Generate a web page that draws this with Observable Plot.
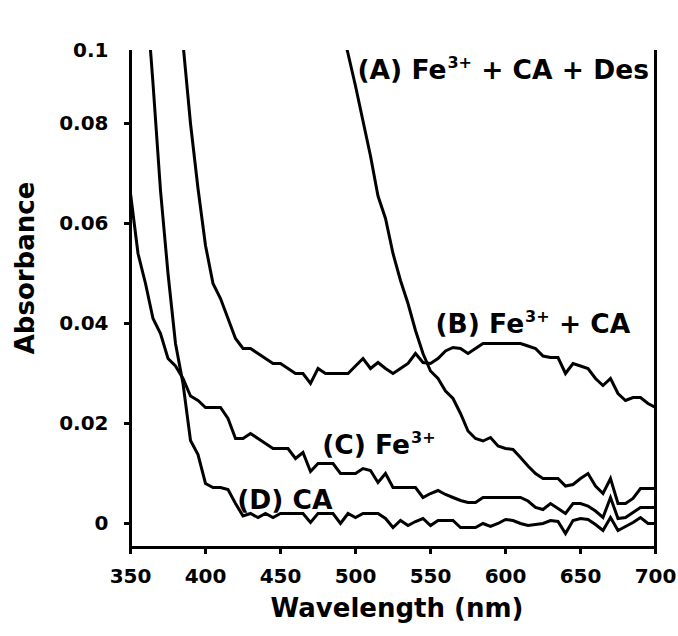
<!DOCTYPE html>
<html>
<head>
<meta charset="utf-8">
<script src="https://cdn.jsdelivr.net/npm/d3@7"></script>
<script src="https://cdn.jsdelivr.net/npm/@observablehq/plot@0.6"></script>
<style>
  html, body { margin: 0; padding: 0; background: #fff; }
  #chart svg { display: block; }
</style>
</head>
<body>
<div id="chart"></div>
<script>
// Wavelength grid (nm)
const wavelength = [350,355,360,365,370,375,380,385,390,395,400,405,410,415,420,425,430,435,440,445,450,455,460,465,470,475,480,485,490,495,500,505,510,515,520,525,530,535,540,545,550,555,560,565,570,575,580,585,590,595,600,605,610,615,620,625,630,635,640,645,650,655,660,665,670,675,680,685,690,695,700];

// (A) Fe3+ + CA + Des
const absA = [null,null,null,null,null,null,null,null,null,null,null,null,null,null,null,null,null,null,null,null,null,null,null,null,null,null,null,null,
  0.1005,0.094,0.0875,0.0805,0.0735,0.0655,0.061,0.054,0.0486,0.044,0.0386,0.034,0.0305,0.029,0.0265,0.025,0.022,0.0185,0.017,0.0165,0.0172,0.0155,
  0.015,0.0148,0.0132,0.0115,0.010,0.009,0.009,0.009,0.0075,0.0078,0.009,0.010,0.0075,0.006,0.009,0.004,0.004,0.005,0.007,0.007,0.007];

// (B) Fe3+ + CA
const absB = [null,null,null,null,null,null,
  0.11,0.096,0.08,0.067,0.0556,0.048,0.045,0.041,0.037,0.035,0.035,0.034,0.033,0.032,0.032,0.031,0.030,0.030,0.028,0.031,0.030,0.030,0.030,0.030,
  0.0315,0.033,0.031,0.0322,0.031,0.030,0.031,0.032,0.034,0.0322,0.032,0.033,0.0345,0.0352,0.035,0.034,0.035,0.036,0.036,0.036,
  0.036,0.036,0.036,0.0355,0.035,0.0335,0.0332,0.0332,0.030,0.032,0.0315,0.031,0.029,0.0276,0.029,0.026,0.0246,0.0252,0.0252,0.024,0.0232];

// (C) Fe3+
const absC = [0.066,0.054,0.048,0.041,0.038,0.033,0.0315,0.029,0.0255,0.0246,0.0232,0.0232,0.0232,0.021,0.017,0.017,0.018,0.017,0.016,0.015,
  0.015,0.015,0.013,0.0142,0.0104,0.012,0.012,0.012,0.010,0.010,0.010,0.011,0.0106,0.0082,0.010,0.0072,0.0072,0.0072,0.0072,0.0052,
  0.006,0.0066,0.0058,0.0052,0.0046,0.0042,0.0042,0.0052,0.0052,0.0052,0.0052,0.0052,0.0052,0.0045,0.0032,0.0028,0.004,0.003,0.002,0.004,
  0.004,0.0035,0.0025,0.0012,0.0052,0.001,0.0012,0.0022,0.0032,0.0032,0.0032];

// (D) CA
const absD = [null,null,
  0.108,0.088,0.0666,0.050,0.036,0.028,0.0166,0.0138,0.008,0.0072,0.0072,0.0068,0.004,0.0015,0.002,0.0012,0.002,0.0012,
  0.002,0.002,0.002,0.002,0.0002,0.002,0.002,0.002,0,0.002,0.0012,0.002,0.002,0.002,0.001,-0.0008,0.0006,-0.0004,0.0004,0.001,
  -0.0004,0.0006,0.0006,0.0006,-0.0008,-0.0008,-0.0008,0,-0.0006,0,0.0008,0.0006,0,-0.0004,-0.0002,0,0.0006,0.0004,-0.002,0.0006,
  0.001,0.0008,-0.0002,-0.0014,0.0012,-0.0014,-0.0006,0.0002,0.0012,0,0];

const seriesNames = ["A", "B", "C", "D"];
const seriesValues = [absA, absB, absC, absD];

// Axis ticks
const xTicks = [350, 400, 450, 500, 550, 600, 650, 700];
const yTicks = [0, 0.02, 0.04, 0.06, 0.08];
const yTickLabels = ["0", "0.02", "0.04", "0.06", "0.08"];
const yTopValue = 0.0946;      // top edge of the plot, labelled "0.1"
const yTopLabel = "0.1";
const yBottomValue = -0.0048;

// Curve labels (superscript written as ^{...})
const labelText = ["(A) Fe^{3+} + CA + Des", "(B) Fe^{3+} + CA", "(C) Fe^{3+}", "(D) CA"];
const labelX = [501.3, 553.3, 477.8, 421.1];
const labelY = [0.089, 0.0382, 0.014, 0.003];

const rows = [];
seriesNames.forEach((s, k) => {
  seriesValues[k].forEach((v, i) => {
    if (v !== null) rows.push({series: s, wl: wavelength[i], abs: v});
  });
});
const labels = labelText.map((t, i) => ({text: t, x: labelX[i], y: labelY[i]}));

const FONT = "'DejaVu Sans', Verdana, sans-serif";

const chart = Plot.plot({
  width: 678,
  height: 636,
  marginLeft: 130,
  marginRight: 23,
  marginTop: 50,
  marginBottom: 89,
  style: {fontFamily: FONT, fontWeight: "bold", background: "#fff", color: "#000"},
  x: {domain: [350, 700]},
  y: {domain: [yBottomValue, yTopValue]},
  marks: [
    Plot.line(rows, {x: "wl", y: "abs", z: "series", stroke: "#000", strokeWidth: 3,
      strokeLinejoin: "miter", strokeMiterlimit: 4, clip: true}),
    Plot.ruleX([350, 700], {stroke: "#000", strokeWidth: 3}),
    Plot.ruleY([yBottomValue], {stroke: "#000", strokeWidth: 3, x1: 350, x2: 700}),
    Plot.axisX({ticks: xTicks, tickSize: 7, tickPadding: 14, tickFormat: d => String(d),
      fontSize: 20, fontWeight: "bold", strokeWidth: 3, label: null}),
    Plot.axisY({ticks: yTicks, tickSize: 6, tickPadding: 16,
      tickFormat: d => yTickLabels[yTicks.indexOf(d)],
      fontSize: 20, fontWeight: "bold", strokeWidth: 3, label: null}),
    Plot.axisY({ticks: [yTopValue], tickSize: 0, tickPadding: 22,
      tickFormat: () => yTopLabel, fontSize: 20, fontWeight: "bold", label: null}),
    Plot.text(labels, {x: "x", y: "y", text: "text", textAnchor: "start", lineAnchor: "bottom",
      fontSize: 26.5, fontWeight: "bold", fill: "#000", className: "curve-label"}),
    Plot.text(["Wavelength (nm)"], {frameAnchor: "bottom", dx: 4, dy: 61, lineAnchor: "middle",
      fontSize: 26, fontWeight: "bold", fill: "#000"}),
    Plot.text(["Absorbance"], {frameAnchor: "left", textAnchor: "middle", dx: -105, dy: -31, rotate: -90,
      lineAnchor: "middle", fontSize: 26, fontWeight: "bold", fill: "#000"})
  ]
});

// Turn ^{...} into real superscript tspans
chart.querySelectorAll("g.curve-label text").forEach(t => {
  const s = t.textContent;
  const m = s.match(/^(.*)\^\{(.*?)\}(.*)$/);
  if (!m) return;
  const ns = "http://www.w3.org/2000/svg";
  t.textContent = "";
  const a = document.createElementNS(ns, "tspan"); a.textContent = m[1];
  const b = document.createElementNS(ns, "tspan"); b.textContent = m[2];
  b.setAttribute("font-size", "16"); b.setAttribute("dy", "-11"); b.setAttribute("dx", "1");
  t.appendChild(a); t.appendChild(b);
  if (m[3]) {
    const c = document.createElementNS(ns, "tspan"); c.textContent = m[3];
    c.setAttribute("dy", "11");
    t.appendChild(c);
  }
});
document.getElementById("chart").appendChild(chart);
</script>
</body>
</html>
